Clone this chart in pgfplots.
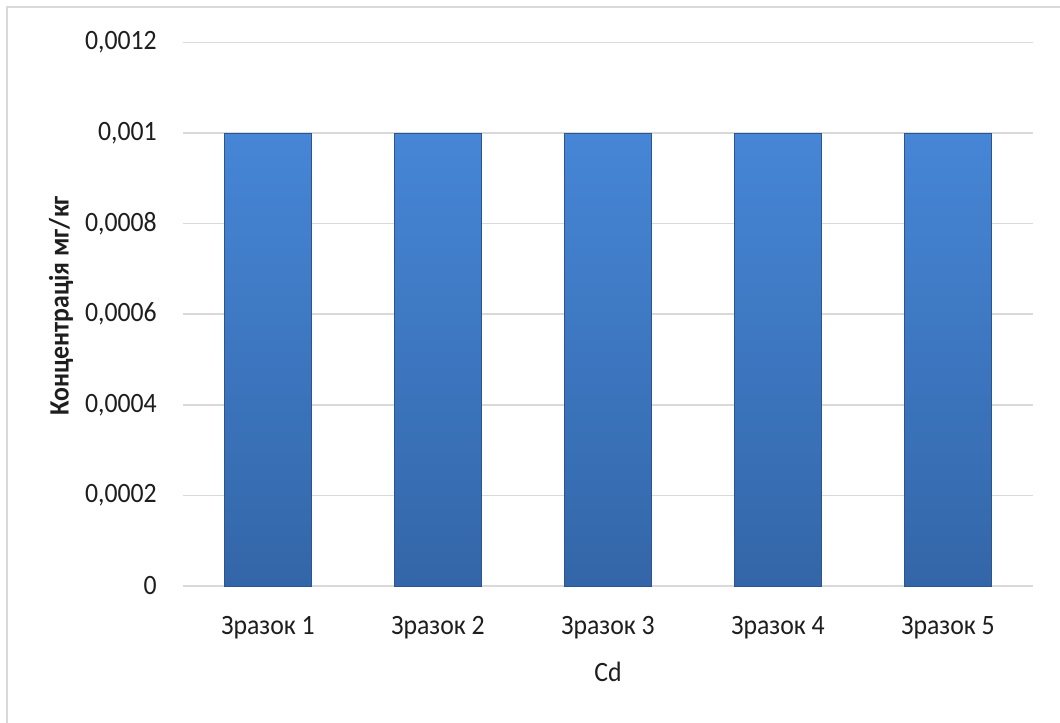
\documentclass[border=0pt]{standalone}
\usepackage{fontspec}
\setmainfont{Carlito}[FakeStretch=0.92]
\usepackage{pgfplots}
\pgfplotsset{compat=1.18}
\definecolor{gridgray}{HTML}{D9D9D9}
\definecolor{framegray}{HTML}{D9D9D9}
\definecolor{textgray}{HTML}{1E1E1E}
\definecolor{barTop}{HTML}{4686D6}
\definecolor{barBot}{HTML}{3366A8}
\definecolor{barEdge}{HTML}{2A5590}
\begin{document}
\fontsize{21}{25}\selectfont
\begin{tikzpicture}
\path[use as bounding box] (0pt,0pt) rectangle (795pt,542.25pt);
\draw[framegray, line width=1.6pt] (5.25pt,0pt) -- (5.25pt,537pt) -- (795pt,537pt);
\begin{axis}[
  at={(137.25pt,102.75pt)}, anchor=south west,
  scale only axis, width=637.5pt, height=407.6pt,
  xmin=-0.5, xmax=4.5, ymin=0, ymax=0.0012,
  axis line style={draw=none},
  axis x line*=bottom, axis y line*=left,
  xtick=data,
  xticklabels={Зразок 1, Зразок 2, Зразок 3, Зразок 4, Зразок 5},
  ytick={0,0.0002,0.0004,0.0006,0.0008,0.001,0.0012},
  scaled y ticks=false,
  /pgf/number format/fixed,
  /pgf/number format/precision=4,
  /pgf/number format/use comma,
  /pgf/number format/assume math mode=true,
  major tick length=0pt,
  tick style={draw=none},
  ymajorgrids,
  grid style={gridgray, line width=1.2pt},
  yticklabel style={anchor=east, inner sep=0pt, xshift=-19.5pt, text=textgray},
  xticklabel style={anchor=base, inner sep=0pt, yshift=-36.75pt, text=textgray},
  xlabel={Cd},
  xlabel style={at={(axis description cs:0.5,0)}, anchor=base, yshift=-72pt, text=textgray},
  ylabel={\bfseries Концентрація мг/кг},
  ylabel style={at={(axis description cs:-0.1435,0.5152)}, anchor=center, text=textgray},
  clip=false,
]
\draw[gridgray, line width=1.6pt] (axis cs:-0.5,0) -- (axis cs:4.5,0);
\addplot[ybar, bar width=0.512, bar shift=0pt, draw=barEdge, line width=0.6pt,
  top color=barTop, bottom color=barBot]
  coordinates {(0,0.001) (1,0.001) (2,0.001) (3,0.001) (4,0.001)};
\end{axis}
\end{tikzpicture}
\end{document}
